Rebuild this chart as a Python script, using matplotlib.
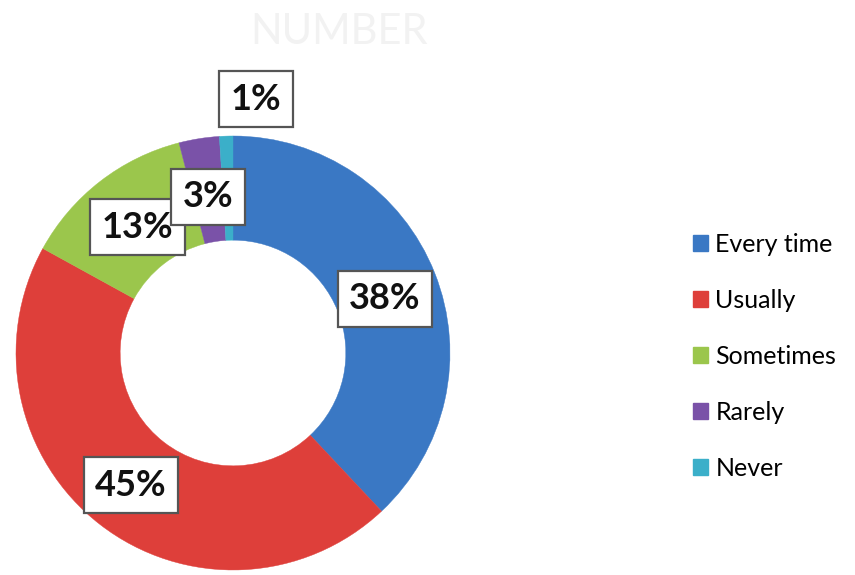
import matplotlib.pyplot as plt
from matplotlib.patches import Patch

categories = ["Every time", "Usually", "Sometimes", "Rarely", "Never"]
shares = [38, 45, 13, 3, 1]
pct_labels = ["38%", "45%", "13%", "3%", "1%"]
colors = ["#3A78C4", "#DE3F3A", "#9BC64C", "#7A52A8", "#3BAFC9"]
# label box centres in data units (radius 1)
label_pos = [(0.70, 0.25), (-0.47, -0.61), (-0.44, 0.58), (-0.115, 0.72), (0.105, 1.17)]

fig = plt.figure(figsize=(8.55, 5.75), dpi=100)
ax = fig.add_axes([0.0187, 0.0087, 0.5076, 0.7548])

wedges, _ = ax.pie(shares, colors=colors, startangle=90, counterclock=False,
                   radius=1.0, wedgeprops=dict(width=0.48, linewidth=0.3))
for w, c in zip(wedges, colors):
    w.set_edgecolor(c)
ax.set_xlim(-1, 1)
ax.set_ylim(-1, 1)
ax.set_aspect("equal")
ax.axis("off")

for txt, (x, y) in zip(pct_labels, label_pos):
    ax.text(x, y, txt, ha="center", va="center", fontsize=26, fontweight="bold",
            family=["Lato", "DejaVu Sans"], color="#111111",
            bbox=dict(boxstyle="square,pad=0.32", facecolor="white",
                      edgecolor="#555555", linewidth=1.6),
            clip_on=False)

fig.text(0.397, 0.945, "NUMBER", ha="center", va="center", fontsize=30,
         color="#f2f2f2", family=["Lato", "DejaVu Sans"])

handles = [Patch(facecolor=c, edgecolor=c) for c in colors]
leg = fig.legend(handles, categories, loc="center left", bbox_to_anchor=(0.79, 0.38),
                 frameon=False, labelspacing=1.32, handlelength=0.6, borderpad=0.2,
                 handleheight=0.6, handletextpad=0.3, prop={"family": "Lato", "size": 18})

fig.savefig("out.png", dpi=100, facecolor="white")
